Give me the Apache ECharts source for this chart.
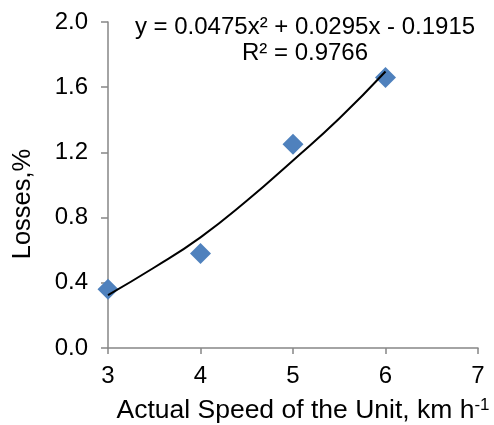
<!DOCTYPE html>
<html><head><meta charset="utf-8">
<script src="https://cdn.jsdelivr.net/npm/echarts@6/dist/echarts.min.js"></script>
<style>html,body{margin:0;padding:0;background:#fff}#c{width:494px;height:425px}</style>
</head><body><div id="c"></div>
<script>
const speeds = [3, 4, 5, 6];
const losses = [0.36, 0.58, 1.25, 1.66];
const trendX = [3, 3.5, 4, 4.5, 5, 5.5, 6];
const trendY = [0.325, 0.494, 0.679, 0.903, 1.151, 1.408, 1.696];
const equationText = 'y = 0.0475x\u00B2 + 0.0295x - 0.1915';
const r2Text = 'R\u00B2 = 0.9766';
const xTitle = 'Actual Speed of the Unit, km h';
const xTitleSup = '-1';
const yTitle = 'Losses,%';

const font = '"Liberation Sans", Arial, sans-serif';
const chart = echarts.init(document.getElementById('c'), null, {renderer: 'canvas'});
chart.setOption({
  animation: false,
  backgroundColor: '#fff',
  grid: {left: 108, right: 16, top: 22, bottom: 77},
  xAxis: {
    type: 'value', min: 3, max: 7, interval: 1,
    axisLine: {show: true, lineStyle: {color: '#868686', width: 1.5}},
    axisTick: {show: true, length: 6, lineStyle: {color: '#868686', width: 1.5}},
    axisLabel: {color: '#000', fontSize: 24, fontFamily: font, margin: 16},
    splitLine: {show: false}
  },
  yAxis: {
    type: 'value', min: 0, max: 2, interval: 0.4,
    axisLine: {show: true, lineStyle: {color: '#868686', width: 1.5}},
    axisTick: {show: true, length: 7, lineStyle: {color: '#868686', width: 1.5}},
    axisLabel: {color: '#000', fontSize: 24, fontFamily: font, margin: 20,
      formatter: v => v.toFixed(1)},
    splitLine: {show: false}
  },
  series: [
    {
      type: 'line', data: trendX.map((x, i) => [x, trendY[i]]),
      smooth: true, showSymbol: false, symbol: 'none',
      lineStyle: {color: '#000', width: 2}, z: 3
    },
    {
      type: 'scatter', data: speeds.map((x, i) => [x, losses[i]]),
      symbol: 'diamond', symbolSize: [21, 21],
      itemStyle: {color: '#4F81BD', opacity: 1}, z: 2
    }
  ],
  graphic: [
    {type: 'text', x: 305, y: 27, style: {
      text: equationText, fill: '#000', font: '24px ' + font,
      align: 'center', verticalAlign: 'middle'}},
    {type: 'text', x: 305, y: 53, style: {
      text: r2Text, fill: '#000', font: '24px ' + font,
      align: 'center', verticalAlign: 'middle'}},
    {type: 'text', x: 23, y: 204, rotation: Math.PI / 2, style: {
      text: yTitle, fill: '#000', font: '25.5px ' + font,
      align: 'center', verticalAlign: 'middle'}},
    {type: 'text', x: 303, y: 411, style: {
      text: '{a|' + xTitle + '}{s|' + xTitleSup + '}',
      align: 'center', verticalAlign: 'middle',
      rich: {
        a: {fontSize: 26.5, fontFamily: font, color: '#000'},
        s: {fontSize: 17, fontFamily: font, color: '#000', padding: [0, 0, 12, 0]}
      }}}
  ]
});
</script></body></html>
